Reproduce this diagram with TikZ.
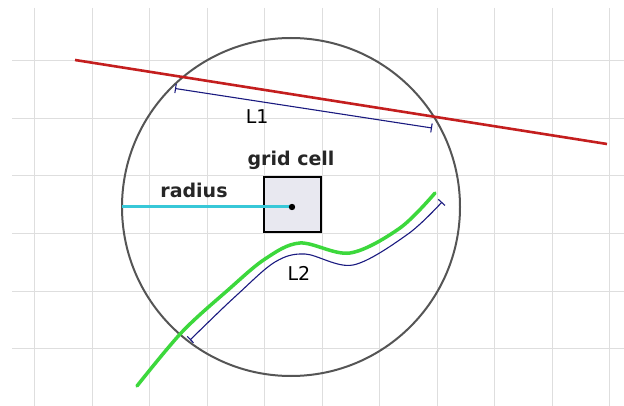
\documentclass[tikz,border=0pt]{standalone}
\usepackage{fontspec}
\setmainfont{DejaVu Sans}
\usetikzlibrary{arrows.meta}
\definecolor{gridc}{HTML}{DEDEDE}
\definecolor{circc}{HTML}{555555}
\definecolor{redc}{HTML}{C41E1E}
\definecolor{navyc}{HTML}{1A1A80}
\definecolor{cyanc}{HTML}{38C8D8}
\definecolor{greenc}{HTML}{3CD83C}
\definecolor{cellc}{HTML}{E8E8F0}
\tikzset{
  gridline/.style={draw=gridc, line width=1pt},
  dimline/.style={draw=navyc, line width=1.1pt, {Bar[width=9pt]}-{Bar[width=9pt]}},
  lbl/.style={font=\fontsize{19}{20}\selectfont, text=black, inner sep=0pt},
  blbl/.style={font=\bfseries\fontsize{19}{20}\selectfont, text=black!85, inner sep=0pt},
}
\begin{document}
\begin{tikzpicture}[x=1pt,y=-1pt]
\useasboundingbox[fill=white] (0,0) rectangle (624,406);
% grid
\foreach \gx in {34.5,92,149.5,207,264.5,322,379.5,437,494.5,552,609.5}
  \draw[gridline] (\gx,8) -- (\gx,406);
\foreach \gy in {61,118.5,176,233.5,291,348.5}
  \draw[gridline] (12,\gy) -- (624,\gy);
% circle
\draw[circc, line width=2pt] (291,207) circle[radius=169];
% red line
\coordinate (r1) at (75,60);
\coordinate (r2) at (607,144);
\draw[redc, line width=2.6pt] (r1) -- (r2);
% L1 dimension
\coordinate (a1) at (175,88.5);
\coordinate (a2) at (432,128);
\draw[dimline] (a1) -- node[lbl, pos=0.32, below=8pt] (L1) {L1} (a2);
% grid cell
\node[draw=black, fill=cellc, line width=2pt, minimum width=57pt, minimum height=55pt, inner sep=0pt] (cell) at (292.5,204.5) {};
\node[blbl, anchor=south] (celllbl) at (291,170) {grid cell};
% radius
\coordinate (rl) at (122,207);
\coordinate (ctr) at (292,207);
\draw[cyanc, line width=3pt] (rl) -- (ctr);
\fill[black] (ctr) circle[radius=3.2];
\node[blbl] (radlbl) at (194,190) {radius};
% green curve
\draw[greenc, line width=3.5pt, line cap=round] plot[smooth, tension=0.55] coordinates {(137,386) (182,332) (228,290) (265,259) (300,243) (350,253) (400,228) (435,193)};
% L2 dimension
\draw[dimline] plot[smooth, tension=0.55] coordinates {(190,340) (238,294) (275,262) (305,254) (353,265) (408,234) (442,202)};
\node[lbl] (L2) at (299,273) {L2};
\end{tikzpicture}
\end{document}
